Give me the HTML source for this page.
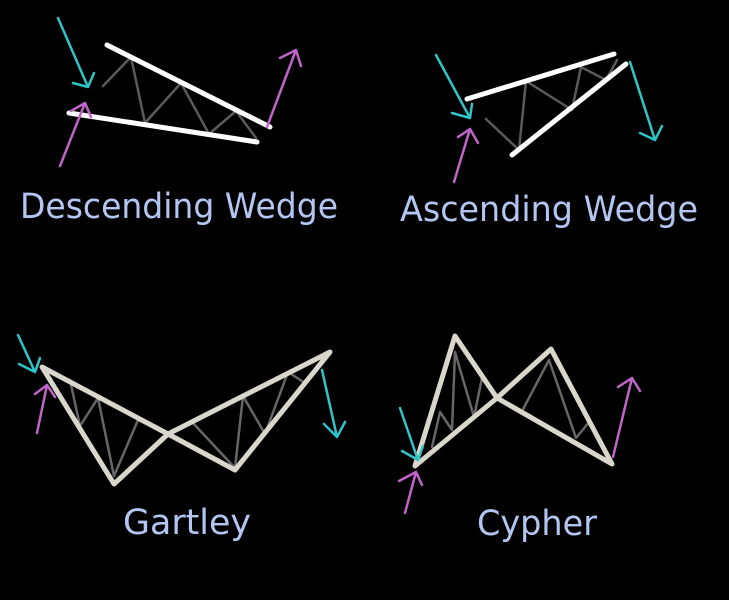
<!DOCTYPE html>
<html><head><meta charset="utf-8"><style>
html,body{margin:0;padding:0;background:#000;}
svg{display:block}
text{font-family:"DejaVu Sans","Liberation Sans",sans-serif;fill:#b3c6f2;font-size:35px}
</style></head><body>
<svg width="729" height="600" viewBox="0 0 729 600" xmlns="http://www.w3.org/2000/svg">
<rect width="729" height="600" fill="#000"/>
<g fill="none" stroke-linecap="round" stroke-linejoin="round">
<!-- Descending wedge -->
<polyline points="103,86 131,57 145,123 181,83 209,134 236,111 256,138" stroke="#5a5a5a" stroke-width="2.5"/>
<line x1="107" y1="45" x2="270" y2="127" stroke="#fff" stroke-width="5"/>
<line x1="69" y1="113" x2="257" y2="142" stroke="#fff" stroke-width="5"/>
<path d="M58,18 L88,87 M73,83 L88,87 L94,73" stroke="#2fc4c8" stroke-width="2.5"/>
<path d="M60,166 L85,103 M71,111 L85,103 L91,117" stroke="#c064c8" stroke-width="2.5"/>
<path d="M267,127 L296,50 M280,58 L296,50 L301,66" stroke="#c064c8" stroke-width="2.5"/>
<!-- Ascending wedge -->
<polyline points="486,119 519,150 526,81 572,110 581,67 606,80 617,60" stroke="#5a5a5a" stroke-width="2.5"/>
<line x1="467" y1="99" x2="614" y2="54" stroke="#fff" stroke-width="5"/>
<line x1="512" y1="155" x2="626" y2="64" stroke="#fff" stroke-width="5"/>
<path d="M436,55 L470,118 M452,113 L470,118 L472,104" stroke="#2fc4c8" stroke-width="2.5"/>
<path d="M454,182 L470,129 M458,137 L470,129 L478,143" stroke="#c064c8" stroke-width="2.5"/>
<path d="M630,62 L655,140 M640,133 L655,140 L662,126" stroke="#2fc4c8" stroke-width="2.5"/>
<!-- Gartley -->
<polyline points="70,380 80,426 98,398 114,476 138,420 168,433 192,422 235,468 243,396 265,434 288,372 305,383" stroke="#666" stroke-width="2.5"/>
<path d="M42,367 L114,484 L168,434 L330,352 L235,470 L168,434 Z" stroke="#d9d6cc" stroke-width="5"/>
<path d="M18,335 L35,372 M19,364 L35,372 L40,358" stroke="#2fc4c8" stroke-width="2.5"/>
<path d="M37,433 L47,385 M35,394 L47,385 L55,397" stroke="#c064c8" stroke-width="2.5"/>
<path d="M322,370 L337,437 M324,424 L337,437 L345,422" stroke="#2fc4c8" stroke-width="2.5"/>
<!-- Cypher -->
<polyline points="432,447 440,412 452,430 455,352 474,417 482,378 496,398 521,413 549,360 576,438 590,421 604,450" stroke="#666" stroke-width="2.5"/>
<path d="M415,466 L455,336 L497,398 L612,464 L551,349 L497,398 Z" stroke="#d9d6cc" stroke-width="5"/>
<path d="M400,408 L418,460 M402,451 L418,460 L423,446" stroke="#2fc4c8" stroke-width="2.5"/>
<path d="M405,513 L416,472 M399,481 L416,472 L422,485" stroke="#c064c8" stroke-width="2.5"/>
<path d="M613,457 L632,378 M618,387 L632,378 L640,391" stroke="#c064c8" stroke-width="2.5"/>
</g>
<text x="20" y="218" textLength="318" lengthAdjust="spacingAndGlyphs">Descending Wedge</text>
<text x="400" y="221" textLength="298" lengthAdjust="spacingAndGlyphs">Ascending Wedge</text>
<text x="123" y="534" textLength="128" lengthAdjust="spacingAndGlyphs">Gartley</text>
<text x="477" y="535" textLength="120" lengthAdjust="spacingAndGlyphs">Cypher</text>
</svg>
</body></html>
